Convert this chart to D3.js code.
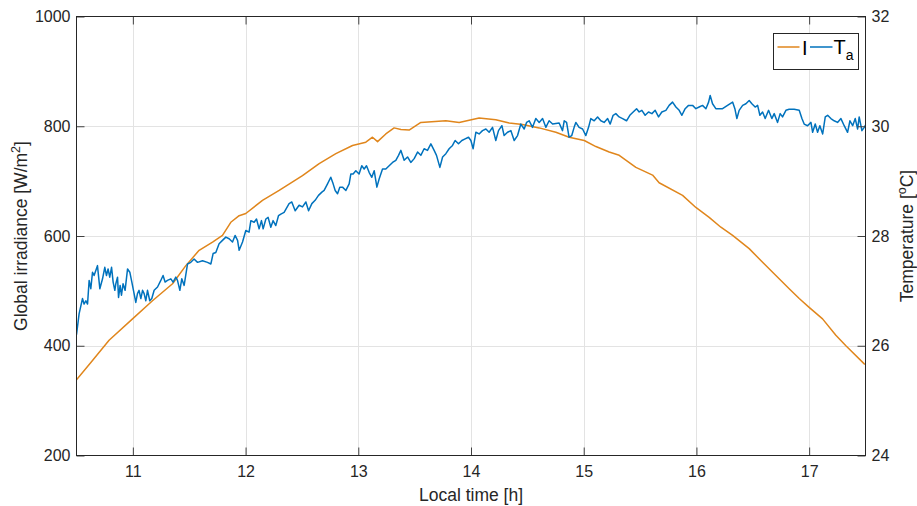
<!DOCTYPE html>
<html>
<head>
<meta charset="utf-8">
<script src="https://cdn.jsdelivr.net/npm/d3@7"></script>
<style>
  html, body { margin: 0; padding: 0; background: #fff; }
  svg { display: block; font-family: "Liberation Sans", Arial, Helvetica, sans-serif; }
  .axis text { fill: #262626; font-size: 16px; }
  .axis line { stroke: #404040; }
  .axis path { stroke: none; }
</style>
</head>
<body>
<svg id="chart" width="917" height="506"></svg>
<script>
// local time [h] and global irradiance [W/m2]
const timeI = [10.500, 10.642, 10.789, 10.997, 11.174, 11.352, 11.470, 11.588, 11.707, 11.795, 11.869, 11.943,
  12.002, 12.150, 12.298, 12.505, 12.653, 12.801, 12.949, 13.067, 13.126, 13.171, 13.244, 13.318, 13.378, 13.451,
  13.555, 13.777, 13.895, 14.072, 14.220, 14.339, 14.457, 14.605, 14.753, 14.871, 15.005, 15.108, 15.226, 15.315,
  15.463, 15.611, 15.669, 15.877, 15.995, 16.113, 16.217, 16.321, 16.468, 16.587, 16.705, 16.823, 16.912, 17.000,
  17.119, 17.237, 17.326, 17.489, 17.500];
const irradiance = [338, 373, 410, 449, 482, 513, 546, 574, 589, 601, 625, 637,
  641, 665, 683, 710, 732, 750, 765, 771, 780, 772, 786, 797, 794, 793,
  807, 810, 807, 815, 812, 806, 803, 797, 789, 780, 774, 763, 753, 747,
  725, 711, 697, 674, 652, 634, 616, 601, 577, 552, 528, 504, 486, 470,
  449, 419, 400, 367, 366];

// local time [h] and ambient temperature [oC]
const timeT = [10.500, 10.523, 10.553, 10.567, 10.583, 10.598, 10.612, 10.627, 10.642, 10.656, 10.686, 10.707,
  10.731, 10.751, 10.766, 10.780, 10.795, 10.811, 10.825, 10.840, 10.849, 10.864, 10.873, 10.887, 10.899, 10.913,
  10.931, 10.953, 10.973, 10.991, 11.011, 11.026, 11.041, 11.055, 11.071, 11.086, 11.100, 11.115, 11.130, 11.150,
  11.168, 11.189, 11.219, 11.248, 11.268, 11.286, 11.307, 11.337, 11.357, 11.381, 11.396, 11.417, 11.434, 11.455,
  11.485, 11.514, 11.543, 11.574, 11.618, 11.662, 11.692, 11.712, 11.736, 11.765, 11.795, 11.825, 11.854, 11.884,
  11.907, 11.929, 11.943, 11.973, 12.002, 12.031, 12.047, 12.076, 12.097, 12.120, 12.141, 12.156, 12.180, 12.200,
  12.224, 12.244, 12.268, 12.292, 12.313, 12.342, 12.386, 12.410, 12.440, 12.475, 12.505, 12.535, 12.559, 12.588,
  12.617, 12.647, 12.677, 12.697, 12.727, 12.756, 12.777, 12.795, 12.816, 12.836, 12.860, 12.890, 12.919, 12.934,
  12.954, 12.978, 13.007, 13.031, 13.052, 13.073, 13.096, 13.120, 13.141, 13.165, 13.185, 13.215, 13.244, 13.274,
  13.304, 13.333, 13.357, 13.378, 13.407, 13.437, 13.466, 13.496, 13.526, 13.555, 13.584, 13.614, 13.644, 13.673,
  13.694, 13.724, 13.748, 13.777, 13.806, 13.836, 13.859, 13.889, 13.919, 13.948, 13.978, 13.999, 14.019, 14.043,
  14.072, 14.102, 14.132, 14.161, 14.191, 14.220, 14.244, 14.274, 14.294, 14.324, 14.354, 14.383, 14.413, 14.442,
  14.472, 14.493, 14.516, 14.546, 14.575, 14.605, 14.635, 14.664, 14.693, 14.724, 14.753, 14.782, 14.812, 14.827,
  14.848, 14.870, 14.894, 14.915, 14.930, 14.959, 14.990, 15.019, 15.043, 15.063, 15.093, 15.123, 15.152, 15.181,
  15.212, 15.235, 15.261, 15.285, 15.314, 15.345, 15.380, 15.409, 15.439, 15.469, 15.492, 15.516, 15.545, 15.575,
  15.605, 15.634, 15.664, 15.693, 15.729, 15.758, 15.788, 15.818, 15.847, 15.871, 15.900, 15.930, 15.966, 15.995,
  16.024, 16.054, 16.084, 16.108, 16.122, 16.143, 16.172, 16.202, 16.232, 16.276, 16.321, 16.341, 16.359, 16.379,
  16.410, 16.439, 16.468, 16.492, 16.521, 16.543, 16.563, 16.587, 16.610, 16.640, 16.669, 16.690, 16.720, 16.743,
  16.764, 16.794, 16.823, 16.867, 16.912, 16.936, 16.956, 16.986, 17.016, 17.031, 17.054, 17.075, 17.095, 17.120,
  17.143, 17.164, 17.193, 17.222, 17.252, 17.282, 17.311, 17.341, 17.362, 17.386, 17.409, 17.430, 17.444, 17.468,
  17.489, 17.500];
const tempA = [26.20, 26.58, 26.86, 26.76, 26.82, 26.76, 27.19, 27.04, 27.34, 27.28, 27.46, 27.04,
  27.22, 27.43, 27.28, 27.40, 27.25, 27.43, 27.16, 27.01, 27.13, 27.25, 26.88, 27.10, 26.92, 27.13,
  27.01, 27.40, 27.34, 27.16, 26.95, 26.79, 26.95, 27.01, 26.86, 27.01, 26.95, 26.82, 27.01, 26.82,
  26.86, 27.01, 27.07, 27.19, 27.28, 27.16, 27.19, 27.22, 27.16, 27.25, 27.19, 27.01, 27.22, 27.10,
  27.49, 27.52, 27.58, 27.52, 27.55, 27.52, 27.49, 27.68, 27.70, 27.86, 27.92, 27.98, 27.95, 27.89,
  28.01, 27.92, 27.74, 27.89, 28.10, 28.07, 28.28, 28.25, 28.31, 28.13, 28.28, 28.13, 28.31, 28.34,
  28.16, 28.28, 28.19, 28.37, 28.40, 28.43, 28.59, 28.62, 28.46, 28.56, 28.53, 28.62, 28.46, 28.59,
  28.65, 28.74, 28.80, 28.83, 28.95, 29.07, 28.95, 28.83, 28.77, 28.89, 28.89, 28.83, 28.95, 29.13,
  29.13, 29.19, 29.13, 29.28, 29.22, 29.28, 29.16, 29.07, 29.19, 28.89, 29.04, 29.22, 29.22, 29.28,
  29.34, 29.38, 29.47, 29.56, 29.38, 29.44, 29.34, 29.41, 29.53, 29.47, 29.59, 29.56, 29.68, 29.56,
  29.47, 29.25, 29.44, 29.50, 29.59, 29.65, 29.74, 29.68, 29.74, 29.77, 29.80, 29.74, 29.59, 29.89,
  29.86, 29.92, 29.95, 29.89, 29.98, 29.74, 29.92, 30.01, 29.83, 29.89, 29.92, 29.74, 29.83, 30.04,
  29.95, 30.07, 30.10, 29.98, 30.14, 30.07, 30.14, 29.98, 30.10, 30.04, 30.05, 30.06, 29.92, 30.10,
  30.07, 29.80, 29.83, 29.98, 30.07, 29.98, 29.95, 29.83, 29.98, 30.14, 30.10, 30.17, 30.10, 30.07,
  30.14, 30.04, 30.20, 30.23, 30.17, 30.14, 30.10, 30.20, 30.26, 30.32, 30.26, 30.29, 30.20, 30.26,
  30.23, 30.29, 30.17, 30.26, 30.29, 30.38, 30.44, 30.35, 30.29, 30.20, 30.32, 30.38, 30.38, 30.32,
  30.35, 30.38, 30.32, 30.44, 30.56, 30.41, 30.32, 30.32, 30.32, 30.38, 30.44, 30.32, 30.14, 30.29,
  30.38, 30.41, 30.47, 30.41, 30.35, 30.38, 30.20, 30.26, 30.14, 30.29, 30.14, 30.23, 30.07, 30.23,
  30.17, 30.29, 30.31, 30.31, 30.29, 30.14, 30.04, 30.01, 30.07, 29.89, 30.04, 29.89, 30.01, 29.86,
  30.17, 30.20, 30.14, 30.10, 30.07, 30.14, 30.01, 29.89, 30.10, 30.01, 30.14, 29.95, 30.17, 29.92,
  29.98, 30.02];

const xTicks = [11, 12, 13, 14, 15, 16, 17];
const yLeftTicks = [200, 400, 600, 800, 1000];
const yRightTicks = [24, 26, 28, 30, 32];

const colorI = "#e0861c";
const colorT = "#0072bd";

const svg = d3.select("#chart");
const plotLeft = 76.5, plotRight = 865.5, plotTop = 16.5, plotBottom = 455.5;

const x = d3.scaleLinear().domain([10.5, 17.5]).range([plotLeft, plotRight]);
const yL = d3.scaleLinear().domain([200, 1000]).range([plotBottom, plotTop]);
const yR = d3.scaleLinear().domain([24, 32]).range([plotBottom, plotTop]);

// grid
const grid = svg.append("g").attr("class", "grid").attr("stroke", "#e3e3e3").attr("stroke-width", 1);
grid.selectAll("line.gx").data(xTicks).enter().append("line")
    .attr("x1", d => Math.round(x(d)) + 0.5).attr("x2", d => Math.round(x(d)) + 0.5)
    .attr("y1", plotTop).attr("y2", plotBottom);
grid.selectAll("line.gy").data(yLeftTicks.slice(1, -1)).enter().append("line")
    .attr("x1", plotLeft).attr("x2", plotRight)
    .attr("y1", d => Math.round(yL(d)) + 0.5).attr("y2", d => Math.round(yL(d)) + 0.5);

// data lines
svg.append("defs").append("clipPath").attr("id", "plotClip")
    .append("rect").attr("x", plotLeft).attr("y", plotTop)
    .attr("width", plotRight - plotLeft).attr("height", plotBottom - plotTop);

const lineI = d3.line().x((d, i) => x(timeI[i])).y(d => yL(d));
const lineT = d3.line().x((d, i) => x(timeT[i])).y(d => yR(d));

const plot = svg.append("g").attr("clip-path", "url(#plotClip)");
plot.append("path").datum(irradiance).attr("d", lineI)
    .attr("fill", "none").attr("stroke", colorI).attr("stroke-width", 1.5).attr("stroke-linejoin", "round");
plot.append("path").datum(tempA).attr("d", lineT)
    .attr("fill", "none").attr("stroke", colorT).attr("stroke-width", 1.5).attr("stroke-linejoin", "round");

// axes, ticks pointing inward like MATLAB
svg.append("g").attr("class", "axis").attr("transform", `translate(0,${plotBottom})`)
    .call(d3.axisBottom(x).tickValues(xTicks).tickFormat(d3.format("d")).tickSizeInner(-8).tickSizeOuter(0).tickPadding(10));
svg.append("g").attr("class", "axis").attr("transform", `translate(0,${plotTop})`)
    .call(d3.axisTop(x).tickValues(xTicks).tickFormat("").tickSizeInner(-8).tickSizeOuter(0));
svg.append("g").attr("class", "axis").attr("transform", `translate(${plotLeft},0)`)
    .call(d3.axisLeft(yL).tickValues(yLeftTicks).tickFormat(d3.format("d")).tickSizeInner(-8).tickSizeOuter(0).tickPadding(6));
svg.append("g").attr("class", "axis").attr("transform", `translate(${plotRight},0)`)
    .call(d3.axisRight(yR).tickValues(yRightTicks).tickFormat(d3.format("d")).tickSizeInner(-8).tickSizeOuter(0).tickPadding(6));

// box
svg.append("rect").attr("x", plotLeft).attr("y", plotTop)
    .attr("width", plotRight - plotLeft).attr("height", plotBottom - plotTop)
    .attr("fill", "none").attr("stroke", "#262626").attr("stroke-width", 1);

// axis titles
const titleStyle = g => g.attr("fill", "#262626").attr("font-size", 17.5);

svg.append("text").call(titleStyle)
    .attr("x", (plotLeft + plotRight) / 2).attr("y", 501).attr("text-anchor", "middle")
    .text("Local time [h]");

const yTitle = svg.append("text").call(titleStyle)
    .attr("transform", `translate(27,${(plotTop + plotBottom) / 2}) rotate(-90)`)
    .attr("text-anchor", "middle");
yTitle.append("tspan").text("Global irradiance [W/m");
yTitle.append("tspan").attr("dy", -7).attr("font-size", 12.5).text("2");
yTitle.append("tspan").attr("dy", 7).text("]");

const rTitle = svg.append("text").call(titleStyle)
    .attr("transform", `translate(913,${(plotTop + plotBottom) / 2}) rotate(-90)`)
    .attr("text-anchor", "middle");
rTitle.append("tspan").text("Temperature [");
rTitle.append("tspan").attr("dy", -7).attr("font-size", 12.5).text("o");
rTitle.append("tspan").attr("dy", 7).text("C]");

// legend
const legend = svg.append("g").attr("transform", "translate(773.5,33.5)");
legend.append("rect").attr("width", 85).attr("height", 36)
    .attr("fill", "#fff").attr("stroke", "#262626").attr("stroke-width", 1);
legend.append("line").attr("x1", 4).attr("x2", 26).attr("y1", 13.5).attr("y2", 13.5)
    .attr("stroke", colorI).attr("stroke-width", 1.5);
legend.append("text").attr("x", 28.5).attr("y", 21).attr("font-size", 20).attr("fill", "#000").text("I");
legend.append("line").attr("x1", 36.5).attr("x2", 59).attr("y1", 13.5).attr("y2", 13.5)
    .attr("stroke", colorT).attr("stroke-width", 1.5);
const legT = legend.append("text").attr("x", 60).attr("y", 20).attr("font-size", 20).attr("fill", "#000");
legT.append("tspan").text("T");
legT.append("tspan").attr("dy", 6).attr("font-size", 14).text("a");
</script>
</body>
</html>
